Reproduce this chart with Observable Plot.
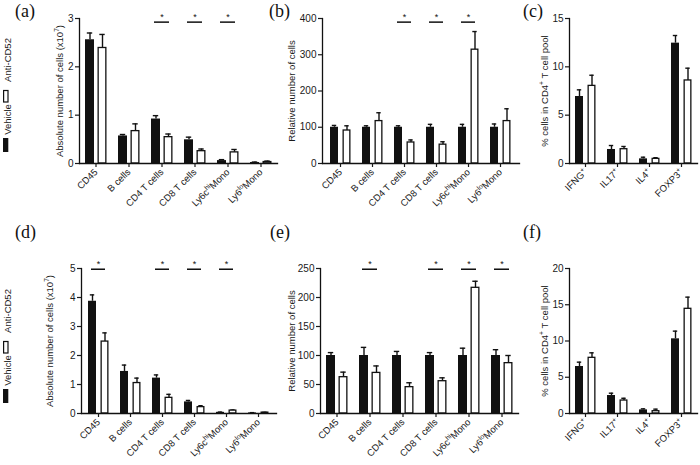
<!DOCTYPE html>
<html><head><meta charset="utf-8">
<script src="https://cdn.jsdelivr.net/npm/d3@7"></script>
<script src="https://cdn.jsdelivr.net/npm/@observablehq/plot@0.6"></script>
<style>
body{margin:0;background:#fff;}
#wrap{position:relative;width:700px;height:465px;overflow:hidden;background:#fff;font-family:"Liberation Sans",Arial,sans-serif;}
</style></head><body><div id="wrap"></div>
<script>
// ---------------- data ----------------
const cells = ["CD45","B cells","CD4 T cells","CD8 T cells","Ly6c^hi^Mono","Ly6^lo^Mono"];
const cytokines = ["IFNG^+","IL17^+","IL4^+","FOXP3^+"];
const groups = ["Vehicle","Anti-CD52"];

// (a) absolute number of cells (x10^7)
const aVehicle = [2.56,0.57,0.92,0.49,0.06,0.02];
const aVehicleSem = [0.14,0.03,0.07,0.055,0.02,0.01];
const aAnti = [2.39,0.67,0.545,0.255,0.23,0.03];
const aAntiSem = [0.28,0.15,0.065,0.045,0.06,0.02];
const aSig = ["CD4 T cells","CD8 T cells","Ly6c^hi^Mono"];
const aTicks = [0,1,2,3];

// (b) relative number of cells
const bVehicle = [100,100,100,100,100,100];
const bVehicleSem = [5,4,4,8,8,9];
const bAnti = [91,117,58,52,314,117];
const bAntiSem = [13,23,7,8,50,34];
const bSig = ["CD4 T cells","CD8 T cells","Ly6c^hi^Mono"];
const bTicks = [0,100,200,300,400];

// (c) % cells in CD4+ T cell pool
const cVehicle = [6.93,1.45,0.48,12.45];
const cVehicleSem = [0.69,0.41,0.17,0.79];
const cAnti = [8.03,1.48,0.48,8.59];
const cAntiSem = [1.10,0.28,0.12,1.27];
const cSig = [];
const cTicks = [0,5,10,15];

// (d)
const dVehicle = [3.87,1.45,1.22,0.40,0.04,0.02];
const dVehicleSem = [0.22,0.22,0.11,0.05,0.01,0.01];
const dAnti = [2.48,1.05,0.54,0.22,0.10,0.03];
const dAntiSem = [0.30,0.17,0.12,0.05,0.02,0.01];
const dSig = ["CD45","CD4 T cells","CD8 T cells","Ly6c^hi^Mono"];
const dTicks = [0,1,2,3,4,5];

// (e)
const eVehicle = [100,100,100,100,100,100];
const eVehicleSem = [5,14,7,5,12.6,10];
const eAnti = [62.6,70,45.4,55.7,216.7,86.8];
const eAntiSem = [8.7,12,7.6,5.8,11.3,13.2];
const eSig = ["B cells","CD8 T cells","Ly6c^hi^Mono","Ly6^lo^Mono"];
const eTicks = [0,50,100,150,200,250];

// (f)
const fVehicle = [6.48,2.48,0.5,10.3];
const fVehicleSem = [0.6,0.32,0.14,1.06];
const fAnti = [7.68,1.79,0.32,14.44];
const fAntiSem = [0.69,0.31,0.28,1.61];
const fSig = [];
const fTicks = [0,5,10,15,20];

const labAbs = "Absolute number of cells (x10^7^)";
const labRel = "Relative number of cells";
const labPct = "% cells in CD4^+^\u00a0T cell pool";

// ---------------- helpers ----------------
const wrap = document.getElementById("wrap");
const FONT = "'Liberation Sans', Arial, Helvetica, sans-serif";
const INK = "#111";

function supers(svg){
  svg.querySelectorAll("text").forEach(t=>{
    const s = t.textContent;
    if (!s.includes("^")) return;
    const parts = s.split("^");
    while (t.firstChild) t.removeChild(t.firstChild);
    let prevSup = false;
    parts.forEach((txt,i)=>{
      if (!txt) return;
      const ts = document.createElementNS("http://www.w3.org/2000/svg","tspan");
      ts.textContent = txt;
      if (i % 2 === 1){
        ts.setAttribute("font-size","0.7em");
        ts.setAttribute("dy","-0.55em");
        prevSup = true;
      } else if (prevSup){
        ts.setAttribute("dy","0.385em");
        prevSup = false;
      }
      t.appendChild(ts);
    });
  });
}

function panel(o){
  const rows = o.cats.map((c,i)=>({cat:c, veh:o.veh[i], vehTop:o.veh[i]+o.vehSem[i], anti:o.anti[i], antiTop:o.anti[i]+o.antiSem[i]}));
  const yMax = o.ticks[o.ticks.length-1];
  const sigRows = o.sig.map(c=>({cat:c, y:yMax*o.sigFrac}));
  const sw = 1.4;
  const p = Plot.plot({
    width:o.width, height:o.height,
    marginLeft:o.ml, marginRight:o.mr, marginTop:o.mt, marginBottom:o.mb,
    style:{fontFamily:FONT, background:"none", overflow:"visible", color:"#1a1a1a"},
    x:{domain:o.cats, paddingInner:0.74, paddingOuter:0.37, label:null},
    y:{domain:[0,yMax], label:null},
    marks:[
      Plot.barY(rows,{x:"cat", y:"veh", fill:INK, dx:-6}),
      Plot.ruleX(rows,{x:"cat", y1:"veh", y2:"vehTop", dx:-6, stroke:INK, strokeWidth:sw}),
      Plot.tickY(rows,{x:"cat", y:"vehTop", dx:-6, insetLeft:1.8, insetRight:1.8, stroke:INK, strokeWidth:sw}),
      Plot.ruleX(rows,{x:"cat", y1:"anti", y2:"antiTop", dx:6.5, stroke:INK, strokeWidth:sw}),
      Plot.tickY(rows,{x:"cat", y:"antiTop", dx:6.5, insetLeft:1.8, insetRight:1.8, stroke:INK, strokeWidth:sw}),
      Plot.barY(rows,{x:"cat", y:"anti", fill:"white", stroke:INK, strokeWidth:1.3, dx:6.5, insetLeft:0.65, insetRight:0.65}),
      Plot.frame({anchor:"left", stroke:INK, strokeWidth:1.3}),
      Plot.frame({anchor:"bottom", stroke:INK, strokeWidth:1.3}),
      Plot.axisY({ticks:o.ticks, tickFormat:d=>String(d), tickSize:4, tickPadding:2, fontSize:10, label:null, strokeWidth:1.2}),
      Plot.axisX({tickRotate:-45, tickSize:4, tickPadding:3, fontSize:9.5, label:null, strokeWidth:1.2}),
      Plot.tickY(sigRows,{x:"cat", y:"y", insetLeft:-3, insetRight:-3, stroke:INK, strokeWidth:1.5}),
      Plot.text(sigRows,{x:"cat", y:"y", text:()=>"*", dy:-5, fontSize:9, fill:INK}),
      Plot.text([o.label],{text:d=>d, frameAnchor:"left", textAnchor:"middle", lineAnchor:"middle", rotate:-90, dx:-o.labelOffset, fontSize:9.5, fill:"#1a1a1a"})
    ]
  });
  p.style.position = "absolute";
  p.style.left = o.left + "px";
  p.style.top = o.top + "px";
  supers(p);
  wrap.appendChild(p);
}

const top1 = {top:0, height:230, mt:18, mb:67, sigFrac:0.975};
const top2 = {top:250, height:215, mt:18, mb:52, sigFrac:0.995};

panel({...top1, cats:cells, veh:aVehicle, vehSem:aVehicleSem, anti:aAnti, antiSem:aAntiSem, sig:aSig, ticks:aTicks, label:labAbs, labelOffset:20, left:0, width:280, ml:79, mr:3});
panel({...top1, cats:cells, veh:bVehicle, vehSem:bVehicleSem, anti:bAnti, antiSem:bAntiSem, sig:bSig, ticks:bTicks, label:labRel, labelOffset:31, left:240, width:282, ml:82, mr:3});
panel({...top1, cats:cytokines, veh:cVehicle, vehSem:cVehicleSem, anti:cAnti, antiSem:cAntiSem, sig:cSig, ticks:cTicks, label:labPct, labelOffset:25, left:480, width:220, ml:89, mr:3});
panel({...top2, cats:cells, veh:dVehicle, vehSem:dVehicleSem, anti:dAnti, antiSem:dAntiSem, sig:dSig, ticks:dTicks, label:labAbs, labelOffset:32, left:0, width:280, ml:81, mr:4});
panel({...top2, cats:cells, veh:eVehicle, vehSem:eVehicleSem, anti:eAnti, antiSem:eAntiSem, sig:eSig, ticks:eTicks, label:labRel, labelOffset:29, left:240, width:280, ml:80, mr:2});
panel({...top2, cats:cytokines, veh:fVehicle, vehSem:fVehicleSem, anti:fAnti, antiSem:fAntiSem, sig:fSig, ticks:fTicks, label:labPct, labelOffset:25, left:480, width:220, ml:89, mr:3});

// ---------------- overlay: panel letters and legends ----------------
const NS = "http://www.w3.org/2000/svg";
const ov = document.createElementNS(NS,"svg");
ov.setAttribute("width",700); ov.setAttribute("height",465);
ov.style.position="absolute"; ov.style.left="0"; ov.style.top="0"; ov.style.pointerEvents="none";
wrap.appendChild(ov);
function el(name, attrs, text){
  const e = document.createElementNS(NS,name);
  for (const k in attrs) e.setAttribute(k, attrs[k]);
  if (text != null) e.textContent = text;
  ov.appendChild(e); return e;
}
const letters = ["(a)","(b)","(c)","(d)","(e)","(f)"];
const letterX = [15,269,523,15,270,523];
const letterY = [17,17,17,238,238,238];
letters.forEach((l,i)=>el("text",{x:letterX[i], y:letterY[i], style:"text-anchor:start", "font-family":"'Liberation Serif','Times New Roman',serif", "font-size":18, fill:"#111"}, l));

[0,251].forEach(off=>{
  el("rect",{x:3, y:138+off, width:5.3, height:14, fill:INK});
  el("text",{transform:`translate(10.6,${119.5+off}) rotate(-90)`, style:"text-anchor:middle", "font-family":FONT, "font-size":9.5, fill:"#1a1a1a"}, groups[0]);
  el("rect",{x:3.6, y:90.5+off, width:4.4, height:11.5, fill:"white", stroke:INK, "stroke-width":1.2});
  el("text",{transform:`translate(10.6,${60+off}) rotate(-90)`, style:"text-anchor:middle", "font-family":FONT, "font-size":9.5, fill:"#1a1a1a"}, groups[1]);
});
</script></body></html>
